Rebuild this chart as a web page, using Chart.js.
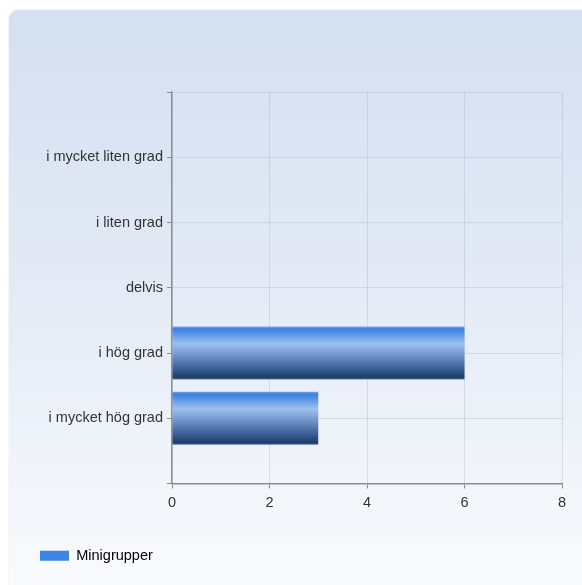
<!DOCTYPE html>
<html>
<head>
<meta charset="utf-8">
<script src="https://cdn.jsdelivr.net/npm/chart.js@4"></script>
<style>
  html, body { margin: 0; padding: 0; background: #ffffff; overflow: hidden; }
  #panel { position: absolute; left: 9px; top: 10px; width: 640px; height: 640px;
    border-radius: 9px; background: linear-gradient(to bottom, #d4dff0 0%, #e4ebf6 45%, #f7f9fc 85%, #fafbfd 100%);
    box-shadow: 0 0 2px rgba(150,170,200,0.35); }
  #wrap { position: absolute; left: 0; top: 0; width: 582px; height: 585px; }
</style>
</head>
<body>
<div id="panel"></div>
<div id="wrap"><canvas id="c" width="582" height="585"></canvas></div>
<script>
const categories = ["i mycket liten grad", "i liten grad", "delvis", "i hög grad", "i mycket hög grad"];
const seriesName = "Minigrupper";
const seriesValues = [0, 0, 0, 6, 3];
const xTicks = [0, 2, 4, 6, 8];

// padded slots so that categories sit between empty top/bottom slots
const labels = [""].concat(categories, [""]);
const data = [null].concat(seriesValues, [null]);

const CAT_PCT = 0.9, BAR_PCT = 0.9;

function barGradient(ctx) {
  const chart = ctx.chart;
  const ys = chart.scales && chart.scales.y;
  if (!ys || !chart.chartArea || ctx.dataIndex === undefined) return '#4a86d8';
  const c = ys.getPixelForValue(ctx.dataIndex);
  const slot = Math.abs(ys.getPixelForValue(1) - ys.getPixelForValue(0));
  const half = slot * CAT_PCT * BAR_PCT / 2;
  const g = chart.ctx.createLinearGradient(0, c - half, 0, c + half);
  g.addColorStop(0, '#7aa8ea');
  g.addColorStop(0.04, '#3c7fe0');
  g.addColorStop(0.12, '#5291e6');
  g.addColorStop(0.32, '#9cc1f0');
  g.addColorStop(0.55, '#6f93c8');
  g.addColorStop(0.8, '#3b5f94');
  g.addColorStop(0.97, '#1e3b69');
  g.addColorStop(1, '#5d7fb0');
  return g;
}

const gridColor = 'rgba(175,186,202,0.42)';
const axisColor = '#8a8d92';
const font = { family: "'Liberation Sans', Arial, sans-serif", size: 14.5 };

new Chart(document.getElementById('c'), {
  type: 'bar',
  data: {
    labels: labels,
    datasets: [{
      label: seriesName,
      data: data,
      backgroundColor: barGradient,
      borderWidth: 0,
      categoryPercentage: CAT_PCT,
      barPercentage: BAR_PCT
    }]
  },
  options: {
    indexAxis: 'y',
    responsive: false,
    animation: false,
    devicePixelRatio: 1,
    layout: { padding: { top: 92, left: 30, right: 20, bottom: 12 } },
    plugins: {
      tooltip: { enabled: false },
      legend: {
        position: 'bottom',
        align: 'start',
        labels: {
          boxWidth: 29,
          boxHeight: 10,
          padding: 10,
          color: '#333',
          font: font,
          generateLabels: (chart) => [{
            text: seriesName, fillStyle: '#3d86e8', strokeStyle: '#3d86e8', lineWidth: 0, datasetIndex: 0, hidden: false
          }]
        }
      }
    },
    scales: {
      x: {
        type: 'linear',
        min: 0, max: 8,
        afterBuildTicks: (s) => { s.ticks = xTicks.map(v => ({ value: v })); },
        afterFit: (s) => { s.height = 55; },
        ticks: { color: '#333', font: font, padding: 6 },
        grid: { color: gridColor, tickColor: axisColor, tickLength: 5, drawOnChartArea: true },
        border: { color: axisColor, width: 1.5 }
      },
      y: {
        type: 'category',
        offset: false,
        afterFit: (s) => { s.width = 142; },
        ticks: { color: '#333', font: font, padding: 4, autoSkip: false },
        grid: { color: gridColor, tickColor: axisColor, tickLength: 5, offset: false },
        border: { color: axisColor, width: 1.5 }
      }
    }
  }
});
</script>
</body>
</html>
